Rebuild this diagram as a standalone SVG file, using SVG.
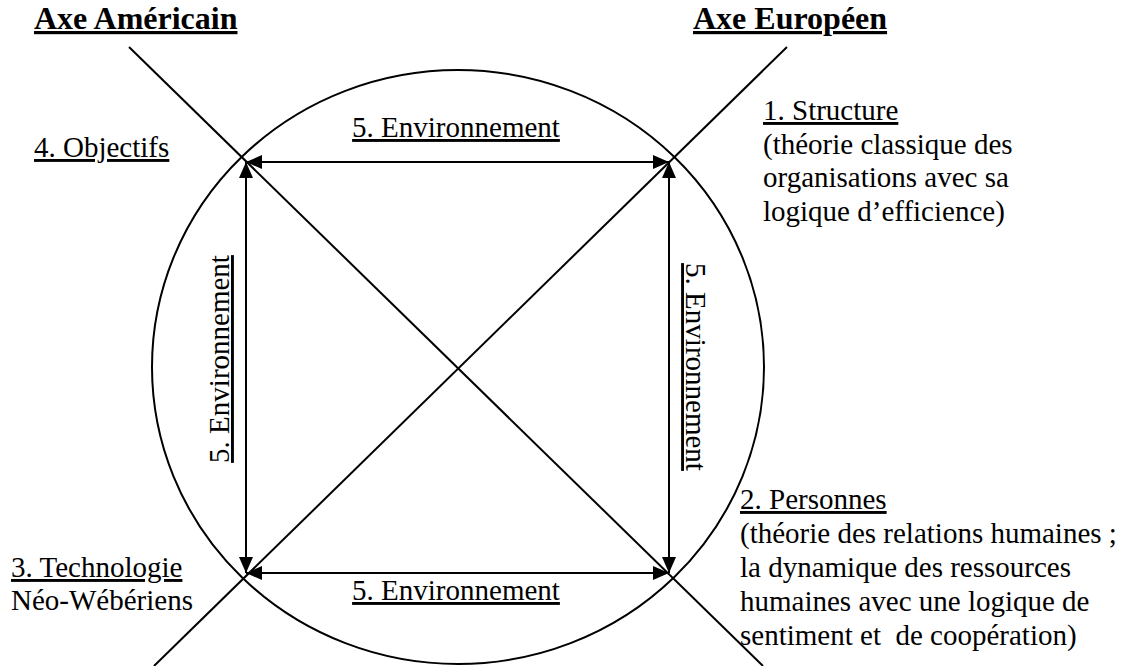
<svg xmlns="http://www.w3.org/2000/svg" width="1124" height="666" viewBox="0 0 1124 666">
  <style>
    .u { text-decoration: underline; }
    .ln { stroke: #000; stroke-width: 2; fill: none; }
    .arr { stroke: #000; stroke-width: 2; fill: none; marker-start: url(#ah); marker-end: url(#ah); }
  </style>
  <defs>
    <marker id="ah" markerUnits="userSpaceOnUse" markerWidth="16" markerHeight="14" refX="16" refY="7" orient="auto-start-reverse">
      <path d="M0,0 L16,7 L0,14 z" fill="#000"/>
    </marker>
  </defs>
  <rect width="1124" height="666" fill="#fff"/>

  <g id="shapes">
    <ellipse class="ln" cx="458" cy="367" rx="306" ry="297"/>
    <line class="ln" x1="129" y1="47" x2="763" y2="666"/>
    <line class="ln" x1="787" y1="47" x2="154" y2="666"/>
  </g>

  <g id="connectors">
    <line class="arr" x1="246" y1="162" x2="669" y2="162"/>
    <line class="arr" x1="246" y1="573" x2="669" y2="573"/>
    <line class="arr" x1="246" y1="162" x2="246" y2="573"/>
    <line class="arr" x1="669" y1="162" x2="669" y2="573"/>
  </g>

  <g id="titles" font-family="Liberation Serif, DejaVu Serif, serif" font-size="32" font-weight="bold" fill="#000">
    <text class="u" x="34" y="29">Axe Américain</text>
    <text class="u" x="693" y="29">Axe Européen</text>
  </g>

  <g font-family="Liberation Serif, DejaVu Serif, serif" font-size="29" fill="#000">
    <g id="env-labels">
      <text class="u" x="456" y="137" text-anchor="middle">5. Environnement</text>
      <text class="u" x="456" y="600" text-anchor="middle">5. Environnement</text>
      <text class="u" text-anchor="middle" transform="translate(229,359) rotate(-90)">5. Environnement</text>
      <text class="u" text-anchor="middle" transform="translate(686,367) rotate(90)">5. Environnement</text>
    </g>

    <g id="node-structure">
      <text class="u" x="763" y="120">1. Structure</text>
      <text x="763" y="154">(théorie classique des</text>
      <text x="763" y="187">organisations avec sa</text>
      <text x="763" y="221">logique d’efficience)</text>
    </g>

    <g id="node-personnes">
      <text class="u" x="740" y="509">2. Personnes</text>
      <text x="740" y="543">(théorie des relations humaines ;</text>
      <text x="740" y="577">la dynamique des ressources</text>
      <text x="740" y="611">humaines avec une logique de</text>
      <text x="740" y="645" xml:space="preserve">sentiment et  de coopération)</text>
    </g>

    <g id="node-technologie">
      <text class="u" x="11" y="577">3. Technologie</text>
      <text x="11" y="610">Néo-Wébériens</text>
    </g>

    <g id="node-objectifs">
      <text class="u" x="34" y="157">4. Objectifs</text>
    </g>
  </g>
</svg>
